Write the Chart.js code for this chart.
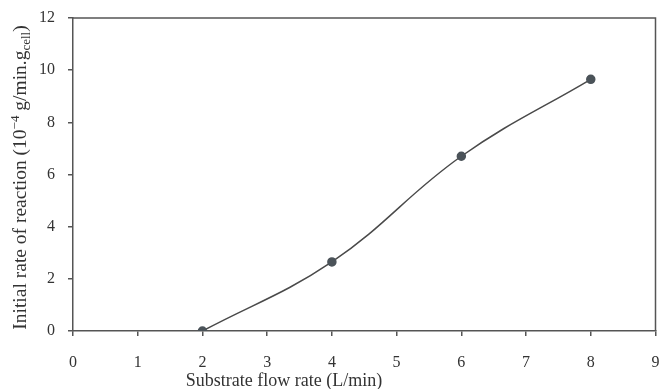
<!DOCTYPE html>
<html>
<head>
<meta charset="utf-8">
<script src="https://cdn.jsdelivr.net/npm/chart.js@4.4.1/dist/chart.umd.min.js"></script>
<style>
  html, body { margin: 0; padding: 0; background: #fff; }
  #wrap { width: 661px; height: 389px; }
</style>
</head>
<body>
<div id="wrap"><canvas id="chart-area"></canvas></div>
<script>
// data
var flowRate = [2, 4, 6, 8];           // L/min
var initialRate = [0, 2.65, 6.7, 9.65]; // 10^-4 g/min.g_cell
var xTicks = [0, 1, 2, 3, 4, 5, 6, 7, 8, 9];
var yTicks = [0, 2, 4, 6, 8, 10, 12];

var points = flowRate.map(function (x, i) { return { x: x, y: initialRate[i] }; });

var serif = "'Liberation Serif', 'DejaVu Serif', serif";
var axisColor = "#555";
var textColor = "#333";

// frame on top/right + axis titles (y title has sup/sub text)
var framePlugin = {
    id: "frame",
    afterDraw: function (chart) {
        var c = chart.ctx, a = chart.chartArea;
        c.save();
        c.strokeStyle = axisColor;
        c.lineWidth = 1.5;
        c.beginPath();
        c.moveTo(a.left, a.top);
        c.lineTo(a.right, a.top);
        c.lineTo(a.right, a.bottom);
        c.stroke();

        c.fillStyle = textColor;
        c.textBaseline = "alphabetic";

        // x title
        c.font = "18px " + serif;
        c.textAlign = "center";
        c.fillText("Substrate flow rate (L/min)", 284, 386);

        // y title, rotated, built from pieces
        var parts = [
            { t: "Initial rate of reaction (10", size: 19.5, dy: 0 },
            { t: "\u22124", size: 13, dy: -7 },
            { t: " g/min.g", size: 19.5, dy: 0 },
            { t: "cell", size: 13, dy: 4 },
            { t: ")", size: 19.5, dy: 0 }
        ];
        var total = 0;
        parts.forEach(function (p) {
            c.font = p.size + "px " + serif;
            p.w = c.measureText(p.t).width;
            total += p.w;
        });
        c.translate(26, (a.top + a.bottom) / 2 + 3);
        c.rotate(-Math.PI / 2);
        c.textAlign = "left";
        var x = -total / 2;
        parts.forEach(function (p) {
            c.font = p.size + "px " + serif;
            c.fillText(p.t, x, p.dy);
            x += p.w;
        });
        c.restore();
    }
};

var ctx = document.getElementById("chart-area");

var myChart = new Chart(ctx, {
    type: "line",
    data: {
        datasets: [{
            label: "rate",
            data: points,
            borderColor: "#4a4a4a",
            borderWidth: 1.5,
            backgroundColor: "#4b5359",
            pointBackgroundColor: "#4b5359",
            pointBorderColor: "#4b5359",
            pointRadius: 4,
            tension: 0.4,
            fill: false
        }]
    },
    options: {
        responsive: true,
        maintainAspectRatio: false,
        animation: false,
        layout: { padding: { top: 18, right: 4, left: 0, bottom: 0 } },
        plugins: {
            legend: { display: false },
            tooltip: { enabled: false }
        },
        scales: {
            x: {
                type: "linear",
                min: 0,
                max: 9,
                afterBuildTicks: function (s) { s.ticks = xTicks.map(function (v) { return { value: v }; }); },
                afterFit: function (s) { s.height = 58; s.paddingRight = 0; s.paddingLeft = 0; },
                grid: { drawOnChartArea: false, drawTicks: true, tickLength: 5, color: axisColor, lineWidth: 1.5 },
                border: { color: axisColor, width: 1.5 },
                ticks: { color: textColor, font: { family: serif, size: 16 }, padding: 17, maxRotation: 0 }
            },
            y: {
                min: 0,
                max: 12,
                afterBuildTicks: function (s) { s.ticks = yTicks.map(function (v) { return { value: v }; }); },
                afterFit: function (s) { s.width = 73; s.paddingTop = 0; s.paddingBottom = 0; },
                grid: { drawOnChartArea: false, drawTicks: true, tickLength: 5, color: axisColor, lineWidth: 1.5 },
                border: { color: axisColor, width: 1.5 },
                ticks: { color: textColor, font: { family: serif, size: 16 }, padding: 13 }
            }
        }
    },
    plugins: [framePlugin]
});
</script>
</body>
</html>
